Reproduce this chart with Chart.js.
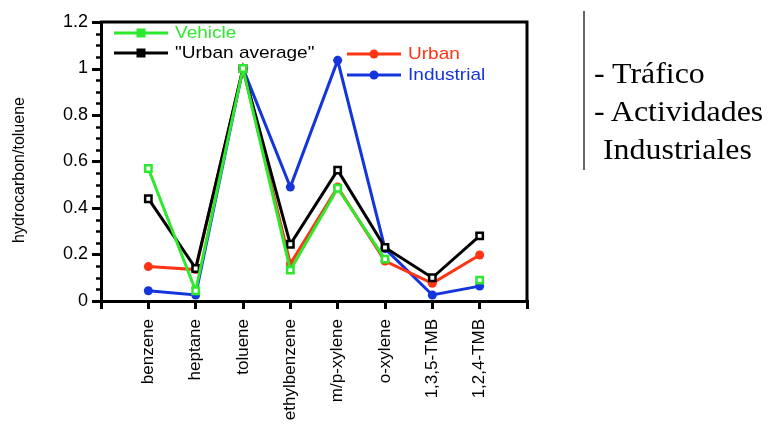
<!DOCTYPE html>
<html>
<head>
<meta charset="utf-8">
<script src="https://cdn.jsdelivr.net/npm/chart.js@4.4.1/dist/chart.umd.min.js"></script>
<style>
  html, body { margin: 0; padding: 0; background: #fff; }
  #wrap { position: relative; width: 768px; height: 426px; overflow: hidden; }
  #chart { position: absolute; left: 0; top: 0; }
  .vbar { position: absolute; left: 583px; top: 11px; width: 2px; height: 159px; background: #666; }
  .note { position: absolute; font-family: 'Liberation Serif', 'Times New Roman', serif; font-size: 29px; color: #000;
          white-space: nowrap; line-height: 1; transform: scaleX(1.1); transform-origin: left top; }
</style>
</head>
<body>
<div id="wrap">
  <canvas id="chart" width="768" height="426"></canvas>
  <div class="vbar"></div>
  <div class="note" style="left:594px; top:59px;">- Tráfico</div>
  <div class="note" style="left:594px; top:97px;">- Actividades</div>
  <div class="note" style="left:603px; top:135px;">Industriales</div>
</div>
<script type="text/javascript">
// compounds along the x axis
var categories = ['benzene', 'heptane', 'toluene', 'ethylbenzene', 'm/p-xylene', 'o-xylene', '1,3,5-TMB', '1,2,4-TMB'];

// hydrocarbon / toluene ratios
var vehicle    = [0.57, 0.044, 1, 0.133, 0.485, 0.18, null, 0.09];
var urbanAvg   = [0.44, 0.14, 1, 0.244, 0.563, 0.23, 0.10, 0.28];
var urban      = [0.148, 0.135, 1, 0.16, 0.49, 0.172, 0.076, 0.198];
var industrial = [0.044, 0.026, 1, 0.49, 1.035, 0.225, 0.026, 0.064];

var GREEN = '#2ee82e', BLACK = '#000000', RED = '#ff3414', BLUE = '#1434dc';
var SANS = '"Liberation Sans", Arial, sans-serif';

// empty slots at both ends so the axis runs one step past the first and last compound
function pad(arr) { return [null].concat(arr, [null]); }
var labels = [''].concat(categories, ['']);

function squareSet(label, data, color, order) {
  return {
    label: label, data: pad(data), borderColor: color, backgroundColor: '#fff',
    borderWidth: 3, pointStyle: 'rect', pointRadius: 4.5, pointBorderWidth: 2.5,
    pointBorderColor: color, pointBackgroundColor: '#fff', spanGaps: false, order: order
  };
}
function dotSet(label, data, color, order) {
  return {
    label: label, data: pad(data), borderColor: color, backgroundColor: color,
    borderWidth: 3, pointStyle: 'circle', pointRadius: 4.5, pointBorderWidth: 0,
    pointBackgroundColor: color, spanGaps: false, order: order
  };
}

var framePlugin = {
  id: 'frame',
  afterDraw: function (chart) {
    var ctx = chart.ctx, a = chart.chartArea, y = chart.scales.y;
    ctx.save();
    ctx.strokeStyle = '#000';
    ctx.lineWidth = 3;
    ctx.beginPath();
    ctx.moveTo(a.left - 1, a.top);
    ctx.lineTo(a.right, a.top);
    ctx.lineTo(a.right, a.bottom);
    ctx.stroke();
    // y tick marks, long at labelled values and short in between
    for (var i = 0; i <= 24; i++) {
      var v = i * 0.05;
      var major = i % 4 === 0;
      var py = Math.round(y.getPixelForValue(v)) + 0.5;
      ctx.lineWidth = major ? 3 : 2.5;
      ctx.beginPath();
      ctx.moveTo(a.left - (major ? 9 : 5), py);
      ctx.lineTo(a.left, py);
      ctx.stroke();
    }
    // y axis title
    ctx.save();
    ctx.translate(20, 170);
    ctx.rotate(-Math.PI / 2);
    ctx.font = '16px ' + SANS;
    ctx.fillStyle = '#000';
    ctx.textAlign = 'center';
    ctx.textBaseline = 'middle';
    ctx.fillText('hydrocarbon/toluene', 0, 0);
    ctx.restore();
    // legend
    var items = [
      { x: 114, y: 33, text: 'Vehicle', color: GREEN, square: true },
      { x: 114, y: 53, text: '"Urban average"', color: BLACK, square: true },
      { x: 347, y: 54, text: 'Urban', color: RED, square: false },
      { x: 347, y: 75, text: 'Industrial', color: BLUE, square: false }
    ];
    ctx.font = '17px ' + SANS;
    ctx.textBaseline = 'middle';
    items.forEach(function (it) {
      ctx.strokeStyle = it.color;
      ctx.lineWidth = 3;
      ctx.beginPath();
      ctx.moveTo(it.x, it.y);
      ctx.lineTo(it.x + 54, it.y);
      ctx.stroke();
      var cx = it.x + 27;
      ctx.fillStyle = it.color;
      if (it.square) {
        ctx.fillRect(cx - 4.5, it.y - 4.5, 9, 9);
      } else {
        ctx.beginPath();
        ctx.arc(cx, it.y, 4.5, 0, Math.PI * 2);
        ctx.fill();
      }
      ctx.save();
      ctx.translate(it.x + 61, it.y);
      ctx.scale(1.12, 1);
      ctx.fillText(it.text, 0, 0);
      ctx.restore();
    });
    ctx.restore();
  }
};

var chart = new Chart('chart', {
  type: 'line',
  data: {
    labels: labels,
    datasets: [
      squareSet('Vehicle', vehicle, GREEN, 1),
      squareSet('"Urban average"', urbanAvg, BLACK, 2),
      dotSet('Urban', urban, RED, 3),
      dotSet('Industrial', industrial, BLUE, 4)
    ]
  },
  options: {
    responsive: false,
    animation: false,
    layout: { padding: { left: 0, right: 241, top: 22, bottom: 0 } },
    plugins: { legend: { display: false }, tooltip: { enabled: false } },
    elements: { line: { tension: 0 } },
    scales: {
      x: {
        type: 'category',
        offset: false,
        grid: { drawOnChartArea: false, drawTicks: true, tickLength: 8, color: '#000', lineWidth: 3 },
        border: { display: true, color: '#000', width: 3 },
        ticks: {
          autoSkip: false, minRotation: 90, maxRotation: 90, padding: 10, color: '#000',
          font: { family: SANS, size: 17 }
        },
        afterFit: function (s) { s.height = 125; }
      },
      y: {
        min: 0,
        max: 1.2,
        grid: { display: true, drawOnChartArea: false, drawTicks: true, tickLength: 9, color: 'rgba(0,0,0,0)' },
        border: { display: true, color: '#000', width: 3 },
        ticks: {
          stepSize: 0.2, padding: 4, color: '#000',
          font: { family: SANS, size: 18 },
          callback: function (v) { return String(+Number(v).toFixed(2)); }
        },
        afterFit: function (s) { s.width = 101; }
      }
    }
  },
  plugins: [framePlugin]
});
</script>
</body>
</html>
